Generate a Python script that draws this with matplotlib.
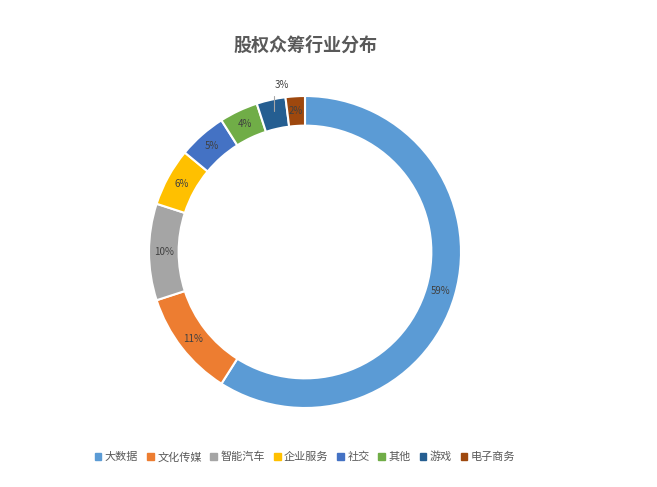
import numpy as np
import matplotlib.pyplot as plt

plt.rcParams['font.family'] = ['Noto Sans CJK SC', 'DejaVu Sans']

categories = ['大数据', '文化传媒', '智能汽车', '企业服务', '社交', '其他', '游戏', '电子商务']
shares = [59, 11, 10, 6, 5, 4, 3, 2]
colors = ['#5B9BD5', '#ED7D31', '#A5A5A5', '#FFC000', '#4472C4', '#70AD47', '#255E91', '#9E480E']

fig = plt.figure(figsize=(6.57, 4.87), dpi=100)
fig.text(305 / 657, 1 - 45 / 487, '股权众筹行业分布', ha='center', va='center',
         fontsize=13, weight='bold', color='#595959')

ax = fig.add_axes([(305 - 156) / 657, (235 - 156) / 487, 312 / 657, 312 / 487])
width = 0.19
wedges, _ = ax.pie(shares, colors=colors, startangle=90, counterclock=False,
                   radius=1, wedgeprops=dict(width=width, edgecolor='white', linewidth=1.5))
ax.set_xlim(-1, 1)
ax.set_ylim(-1, 1)
ax.set_aspect('equal')

r = 1 - width / 2
for w, v in zip(wedges, shares):
    ang = np.deg2rad((w.theta1 + w.theta2) / 2)
    x, y = r * np.cos(ang), r * np.sin(ang)
    if v == 3:
        ax.annotate(f'{v}%', xy=(x, y), xytext=(x + 0.05, 1.07), fontsize=7, color='#404040',
                    ha='center', va='center', annotation_clip=False,
                    arrowprops=dict(arrowstyle='-', color='#A6A6A6', lw=0.8,
                                    connectionstyle='angle,angleA=0,angleB=90'))
    else:
        ax.text(x, y, f'{v}%', ha='center', va='center', fontsize=7, color='#404040')

handles = [plt.Rectangle((0, 0), 1, 1, color=c) for c in colors]
fig.legend(handles, categories, loc='center', bbox_to_anchor=(305 / 657, 1 - 457 / 487),
           ncol=8, frameon=False, fontsize=8, handlelength=0.6, handleheight=0.6,
           handletextpad=0.3, columnspacing=0.8, labelcolor='#595959')

fig.savefig('out.png', dpi=100)
